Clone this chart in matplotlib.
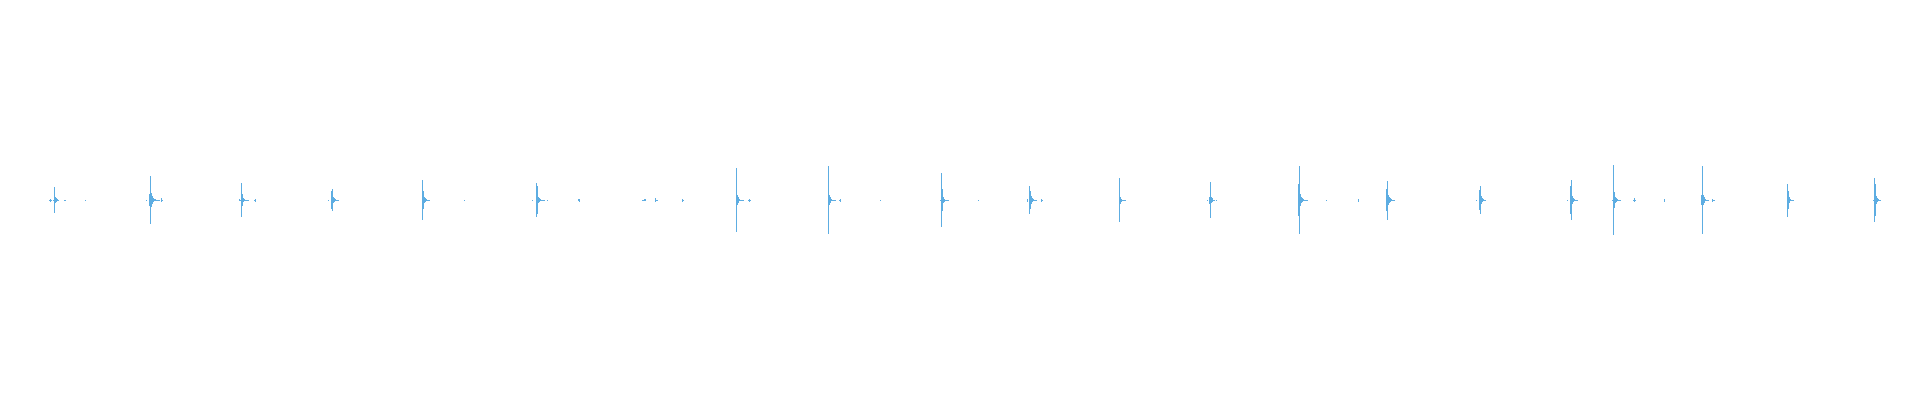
import numpy as np
import matplotlib
matplotlib.use("Agg")
import matplotlib.pyplot as plt

# waveform peaks, one value per drawn column, in % of full scale
n_columns = 1833
burst_start = [0, 15, 36, 97, 112, 190, 205, 279, 373, 415, 483, 498, 529,
               593, 606, 633, 687, 699, 779, 790, 831, 891, 929, 978, 992,
               1070, 1158, 1249, 1258, 1277, 1309, 1337, 1427, 1518, 1563,
               1584, 1615, 1652, 1663, 1738, 1824]
burst_peaks = [
    [0.25, 0.75, 0.25, 0, 0.25, 6.5, 1.5, 1, 0.5, 0.25],
    [0.25, 0.25],
    [0.25],
    [0.25, 0, 0, 3, 12, 3.5, 2, 1, 0.5, 0.5, 0.25, 0.25, 0.25, 0.25],
    [1, 0.25],
    [0.5, 0.25, 8.5, 3, 1, 0.5, 0.25, 0.25, 0.25, 0.25],
    [0.25, 0.75],
    [0.25, 0, 0, 4.5, 5.5, 1.5, 1, 0.5, 0.25, 0.25, 0.25],
    [10, 4.5, 1.5, 1, 0.5, 0.25, 0.25, 0.25],
    [0.25],
    [0.25, 0, 0, 0, 8.5, 7, 1.5, 1, 0.5, 0.25, 0.25, 0.25, 0.25],
    [0.25],
    [0.5, 0.75],
    [0.25, 0.25, 0.5, 0.5],
    [1, 0.25, 0.25],
    [0.75, 0.25],
    [16, 2.5, 1.5, 0.5, 0.25, 0.25, 0.25, 0.25],
    [0.25, 0.75, 0.25],
    [17, 2.5, 1.5, 0.5, 0.25, 0.25, 0.25, 0.25],
    [0.25, 0.75],
    [0.25],
    [0.25, 13.5, 5.5, 1.5, 0.75, 0.25, 0.25, 0.25, 0.25],
    [0.25],
    [0.75, 0, 7, 4.5, 2, 1, 0.5, 0.25, 0.25, 0.25],
    [0.75, 0.25],
    [11, 1.75, 0.75, 0.25, 0.25, 0.25, 0.25],
    [0.25, 0, 1.75, 9, 1.5, 1, 0.25, 0.25, 0, 0.25],
    [8, 17, 3, 1.5, 1, 0.5, 0.25, 0.25, 0.25],
    [0.25],
    [0.25],
    [0.75],
    [5.5, 9.75, 2.5, 1.5, 1, 0.5, 0.25, 0.25, 0.25],
    [0.25, 0, 0, 5, 7, 2, 1, 0.5, 0.25, 0.25],
    [0.25, 0, 0, 7, 10, 2, 1, 0.5, 0.25, 0.25, 0.25],
    [0.25, 17.5, 4, 1.5, 1, 0.5, 0.25, 0.25, 0.25],
    [0.25, 1, 0.25],
    [0.75],
    [2.5, 17, 2.5, 1.5, 0.5, 0.25, 0.25, 0.25],
    [0.75, 0.25, 0.25],
    [8.25, 4.5, 1.5, 0.5, 0.25, 0.25, 0.25],
    [0.25, 11, 8, 2, 1, 0.5, 0.25, 0.25],
]

peaks = np.zeros(n_columns)
for start, vals in zip(burst_start, burst_peaks):
    peaks[start:start + len(vals)] = vals

cols = np.arange(n_columns)
keep = peaks > 0

fig = plt.figure(figsize=(19.2, 4), dpi=100)
ax = fig.add_axes([49 / 1920, 0, n_columns / 1920, 1])
ax.bar(cols[keep], 2 * peaks[keep], bottom=-peaks[keep], width=1, align="edge",
       color="#5dade2", linewidth=0, antialiased=False)
ax.set_xlim(0, n_columns)
ax.set_ylim(-100, 100)
ax.axis("off")
fig.savefig("out.png", dpi=100, facecolor="white")
